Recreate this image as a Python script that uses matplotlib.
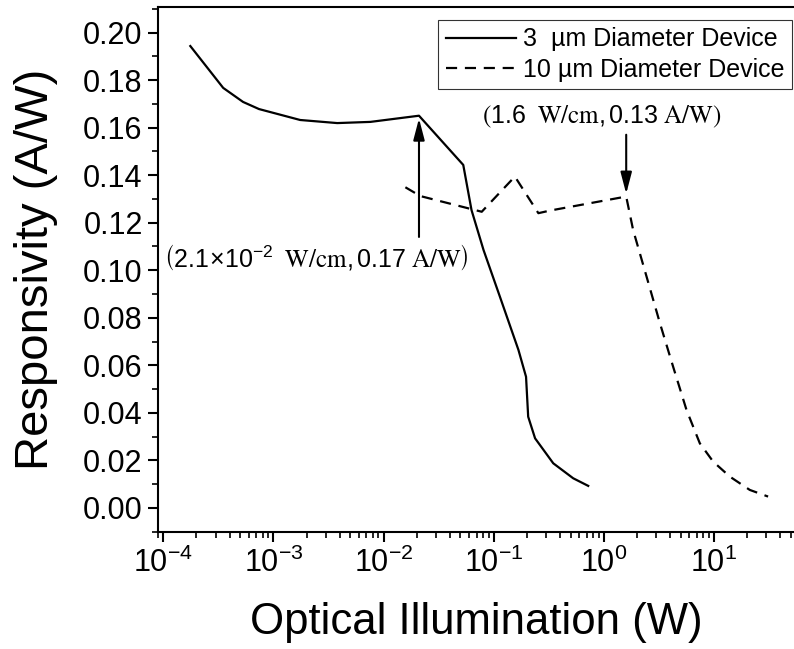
import matplotlib
matplotlib.use("Agg")
import matplotlib.pyplot as plt
from matplotlib.ticker import LogLocator, MultipleLocator, NullFormatter

# 3 um diameter device
power_3um = [1.76e-4, 3.5e-4, 5.3e-4, 7.4e-4, 1.75e-3, 3.8e-3, 7.6e-3, 2.1e-2,
             0.053, 0.063, 0.081, 0.114, 0.168, 0.197, 0.206, 0.238, 0.348, 0.528, 0.723]
resp_3um = [0.1943, 0.1767, 0.1708, 0.1678, 0.1632, 0.1619, 0.1624, 0.165,
            0.1443, 0.1253, 0.1085, 0.0889, 0.0665, 0.0552, 0.0384, 0.0293, 0.0188, 0.0125, 0.0093]

# 10 um diameter device
power_10um = [0.0158, 0.0216, 0.078, 0.156, 0.255, 0.325, 1.6, 1.85, 2.45, 3.24,
              4.27, 5.65, 7.46, 9.86, 13.97, 21.2, 31.1]
resp_10um = [0.1349, 0.1312, 0.1246, 0.1394, 0.124, 0.1251, 0.131, 0.1169, 0.0973, 0.0777,
             0.0594, 0.0412, 0.0272, 0.0195, 0.0132, 0.0076, 0.0048]

# annotated points
peak_3um = (2.1e-2, 0.165)
peak_10um = (1.6, 0.131)

plt.rcParams['font.family'] = ['Liberation Sans', 'DejaVu Sans']
plt.rcParams['mathtext.fontset'] = 'custom'
plt.rcParams['mathtext.rm'] = 'Liberation Sans'
plt.rcParams['mathtext.default'] = 'regular'

fig = plt.figure(figsize=(7.94, 6.49), dpi=100)
ax = fig.add_axes([158 / 794, 117 / 649, 636 / 794, 524.7 / 649])

ax.plot(power_3um, resp_3um, color='black', lw=1.6, label='3  \u00b5m Diameter Device')
ax.plot(power_10um, resp_10um, color='black', lw=1.6, dashes=(5, 3.5),
        label='10 \u00b5m Diameter Device')

ax.set_xscale('log')
ax.set_xlim(10 ** -4.048, 10 ** 1.728)
ax.set_ylim(-0.0101, 0.2106)
ax.yaxis.set_major_locator(MultipleLocator(0.02))
ax.yaxis.set_minor_locator(MultipleLocator(0.01))
ax.yaxis.set_major_formatter(lambda v, p: f"{v:.2f}")
ax.xaxis.set_major_locator(LogLocator(base=10, numticks=20))
ax.xaxis.set_minor_locator(LogLocator(base=10, subs=range(2, 10), numticks=20))
ax.xaxis.set_minor_formatter(NullFormatter())

for s in ['left', 'bottom', 'top']:
    ax.spines[s].set_linewidth(1.5)
ax.spines['right'].set_visible(False)
ax.tick_params(which='major', direction='out', length=7, width=1.5, labelsize=22, pad=4)
ax.tick_params(which='minor', direction='out', length=4, width=1.2)
ax.tick_params(top=False, right=False, which='both')

ax.set_xlabel('Optical Illumination (W)', fontsize=31.5, labelpad=17)
ax.set_ylabel('Responsivity (A/W)', fontsize=34, labelpad=18)

leg = ax.legend(loc='upper right', bbox_to_anchor=(0.997, 0.976), borderaxespad=0,
                fontsize=18, frameon=True, fancybox=False, handlelength=2.8,
                handletextpad=0.3, borderpad=0.3, labelspacing=0.25)
leg.get_frame().set_edgecolor('black')
leg.get_frame().set_linewidth(0.8)

arrow = dict(arrowstyle='-|>,head_length=0.65,head_width=0.17', mutation_scale=20,
             color='black', lw=1.5, shrinkA=0, shrinkB=2)

ax.annotate('', xy=peak_3um, xytext=(peak_3um[0], 0.114), arrowprops=arrow)
ax.text(10 ** -2.61, 0.1055,
        r"$\left(2.1\!\times\!10^{-2}\ \ \mathrm{W/cm}, %.2f\ \mathrm{A/W}\right)$" % peak_3um[1],
        fontsize=18, ha='center', va='center', math_fontfamily='stix')

ax.annotate('', xy=peak_10um, xytext=(peak_10um[0], 0.157), arrowprops=arrow)
ax.text(10 ** -0.02, 0.1647,
        r"$\left(%.1f\ \ \mathrm{W/cm}, %.2f\ \mathrm{A/W}\right)$" % peak_10um,
        fontsize=18, ha='center', va='center', math_fontfamily='stix')

fig.savefig('out.png', dpi=100)
